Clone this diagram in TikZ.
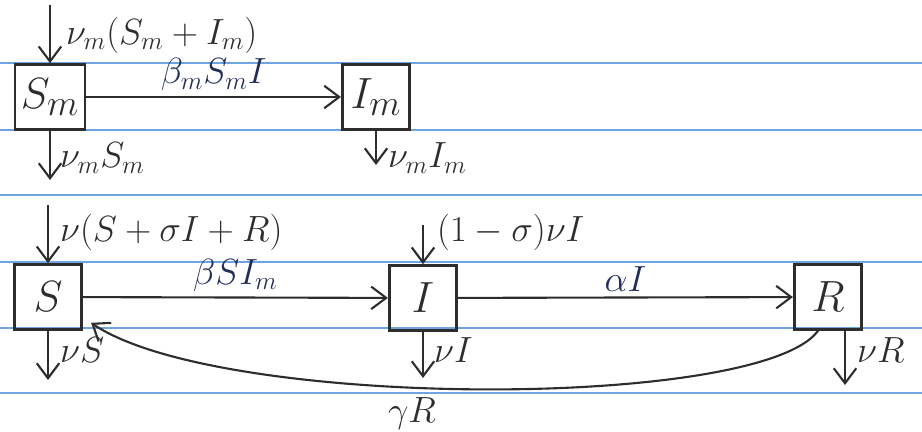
\documentclass[tikz,border=0pt]{standalone}
\usepackage{amsmath, amssymb}
\usetikzlibrary{positioning,arrows.meta}
\definecolor{inkblack}{RGB}{45,45,45}
\definecolor{inkblue}{RGB}{35,45,90}
\definecolor{paperline}{RGB}{110,165,225}
\tikzset{
  flowarrow/.style={-{Straight Barb[length=3mm,width=4.5mm]}, line width=1.2pt, draw=inkblack},
  compnode/.style={draw=inkblack, line width=1.5pt, minimum width=1.35cm, minimum height=1.3cm, font=\Huge, text=inkblack},
  ratelabel/.style={font=\huge, inner sep=1pt, text=inkblack},
  flowlabel/.style={font=\huge, inner sep=3pt, text=inkblue},
  ruleline/.style={draw=paperline, line width=0.8pt}
}
\begin{document}
\begin{tikzpicture}[x=0.02cm, y=-0.02cm]
  \useasboundingbox (0,0) rectangle (922,432);
  % ruled paper
  \foreach \yy in {63,130,195,262,328,393}
    \draw[ruleline] (0,\yy) -- (922,\yy);

  % mosquito compartments
  \node[compnode] (sm) at (50,97) {$S_m$};
  \node[compnode] (im) at (376,97) {$I_m$};
  \coordinate (sm-in) at (50,5);
  \coordinate (sm-out) at (50,180);
  \coordinate (im-out) at (376,165);
  \draw[flowarrow] (sm-in) -- (sm);
  \draw[flowarrow] (sm) -- (sm-out);
  \draw[flowarrow] (im) -- (im-out);
  \draw[flowarrow] (sm) -- node[flowlabel, above] {$\beta_m S_m I$} (im);
  \node[ratelabel, anchor=west] (lsmin) at (64,35) {$\nu_m(S_m+I_m)$};
  \node[ratelabel, anchor=west] (lsmout) at (58,158) {$\nu_m S_m$};
  \node[ratelabel, anchor=west] (limout) at (386,158) {$\nu_m I_m$};

  % human compartments
  \node[compnode] (s) at (48,297) {$S$};
  \node[compnode] (i) at (423,298) {$I$};
  \node[compnode] (r) at (828,297) {$R$};
  \coordinate (s-in) at (48,205);
  \coordinate (i-in) at (423,225);
  \coordinate (s-out) at (48,380);
  \coordinate (i-out) at (423,378);
  \coordinate (r-out) at (845,385);
  \draw[flowarrow] (s-in) -- (s);
  \draw[flowarrow] (i-in) -- (i);
  \draw[flowarrow] (s) -- (s-out);
  \draw[flowarrow] (i) -- (i-out);
  \draw[flowarrow] (r.south -| r-out) -- (r-out);
  \draw[flowarrow] (s) -- node[flowlabel, above] {$\beta S I_m$} (i);
  \draw[flowarrow] (i) -- node[flowlabel, above] {$\alpha I$} (r);
  \draw[flowarrow] ([xshift=-0.2cm]r.south) .. controls (760,410) and (220,410) .. ([shift={(8,-8)}]s.south east);
  \node[ratelabel, anchor=west] (lsin) at (58,232) {$\nu(S+\sigma I+R)$};
  \node[ratelabel, anchor=west] (liin) at (435,232) {$(1-\sigma)\nu I$};
  \node[ratelabel, anchor=west] (lsout) at (58,350) {$\nu S$};
  \node[ratelabel, anchor=west] (liout) at (432,350) {$\nu I$};
  \node[ratelabel, anchor=west] (lrout) at (855,350) {$\nu R$};
  \node[ratelabel] (lrs) at (412,414) {$\gamma R$};
\end{tikzpicture}
\end{document}
